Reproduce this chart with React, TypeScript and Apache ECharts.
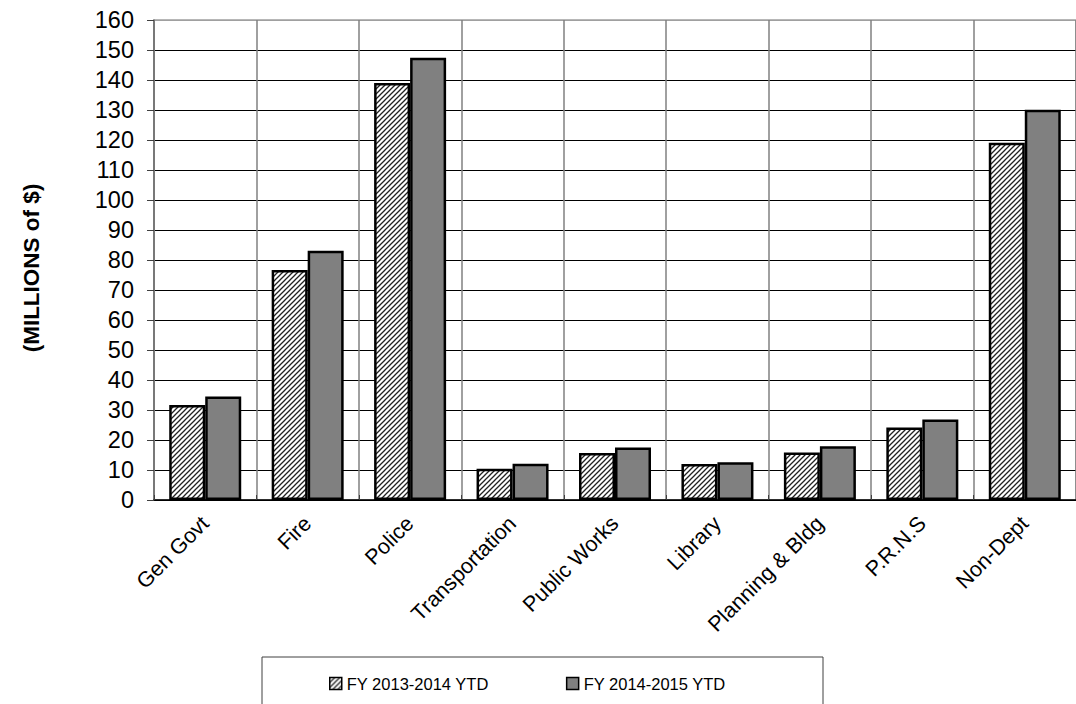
import React, { useEffect, useRef } from "react";
import * as echarts from "echarts";

const categories = [
  "Gen Govt",
  "Fire",
  "Police",
  "Transportation",
  "Public Works",
  "Library",
  "Planning & Bldg",
  "P.R.N.S",
  "Non-Dept",
];
const fy1314 = [31.7, 76.7, 139.0, 10.4, 15.7, 12.0, 15.8, 24.2, 119.1];
const fy1415 = [34.5, 83.1, 147.4, 12.1, 17.5, 12.6, 17.9, 26.8, 130.1];
const seriesNames = ["FY 2013-2014 YTD", "FY 2014-2015 YTD"];
const yTicks = { min: 0, max: 160, interval: 10 };

const FONT = "'Liberation Sans', Arial, sans-serif";

function makeHatch(): HTMLCanvasElement {
  const s = 5;
  const c = document.createElement("canvas");
  c.width = s;
  c.height = s;
  const ctx = c.getContext("2d")!;
  ctx.fillStyle = "#ffffff";
  ctx.fillRect(0, 0, s, s);
  ctx.strokeStyle = "#222222";
  ctx.lineWidth = 1.3;
  ctx.beginPath();
  ctx.moveTo(-1, s + 1);
  ctx.lineTo(s + 1, -1);
  ctx.moveTo(-1, 1);
  ctx.lineTo(1, -1);
  ctx.moveTo(s - 1, s + 1);
  ctx.lineTo(s + 1, s - 1);
  ctx.stroke();
  return c;
}

export default function App() {
  const ref = useRef<HTMLDivElement>(null);
  useEffect(() => {
    document.body.style.margin = "0";
    const chart = echarts.init(ref.current!, undefined, { renderer: "svg" });
    const hatch = makeHatch();
    const splitColors: string[] = [];
    const nTicks = (yTicks.max - yTicks.min) / yTicks.interval + 1;
    for (let i = 0; i < nTicks; i++) splitColors.push(i === nTicks - 1 ? "#a0a0a0" : "#000000");
    chart.setOption({
      animation: false,
      backgroundColor: "#ffffff",
      textStyle: { fontFamily: FONT },
      grid: {
        left: 154,
        top: 20,
        width: 927,
        height: 480,
        show: true,
        borderColor: "#a0a0a0",
        borderWidth: 1.5,
        backgroundColor: "transparent",
      },
      legend: {
        left: 329,
        top: 675,
        padding: 0,
        itemGap: 77,
        itemWidth: 12,
        itemHeight: 12,
        icon: "rect",
        itemStyle: { borderWidth: 1.5, borderColor: "#000" },
        textStyle: { fontSize: 16.5, color: "#000", fontFamily: FONT },
        data: seriesNames,
      },
      graphic: [
        {
          type: "rect",
          shape: { x: 262, y: 657, width: 561, height: 60 },
          style: { fill: "none", stroke: "#404040", lineWidth: 1 },
          silent: true,
        },
      ],
      xAxis: {
        type: "category",
        data: categories,
        axisLine: { show: true, lineStyle: { color: "#000", width: 1.5 } },
        axisTick: { show: true, inside: true, length: 5, lineStyle: { color: "#404040" } },
        splitLine: { show: true, lineStyle: { color: "#808080", width: 1.5 } },
        axisLabel: {
          rotate: 45,
          fontSize: 21.5,
          color: "#000",
          margin: 20,
          fontFamily: FONT,
          interval: 0,
        },
      },
      yAxis: {
        type: "value",
        min: yTicks.min,
        max: yTicks.max,
        interval: yTicks.interval,
        name: "(MILLIONS of $)",
        nameLocation: "middle",
        nameRotate: 90,
        nameGap: 111,
        nameTextStyle: {
          fontSize: 22.5,
          fontWeight: "bold",
          color: "#000",
          fontFamily: FONT,
          padding: [0, 16, 0, 0],
        },
        axisLine: { show: true, lineStyle: { color: "#707070", width: 1.5 } },
        axisTick: { show: true, length: 7, lineStyle: { color: "#404040" } },
        splitLine: { show: true, lineStyle: { color: splitColors, width: 1 } },
        axisLabel: { fontSize: 23.5, color: "#000", margin: 20, fontFamily: FONT },
      },
      series: [
        {
          name: seriesNames[0],
          type: "bar",
          data: fy1314,
          barWidth: 36,
          barGap: "0%",
          itemStyle: {
            color: { image: hatch, repeat: "repeat" },
            borderColor: "#000",
            borderWidth: 2.5,
          },
        },
        {
          name: seriesNames[1],
          type: "bar",
          data: fy1415,
          barWidth: 36,
          barGap: "0%",
          itemStyle: { color: "#808080", borderColor: "#000", borderWidth: 2.5 },
        },
      ],
    });
    return () => chart.dispose();
  }, []);
  return <div ref={ref} style={{ width: 1076, height: 704 }} />;
}
